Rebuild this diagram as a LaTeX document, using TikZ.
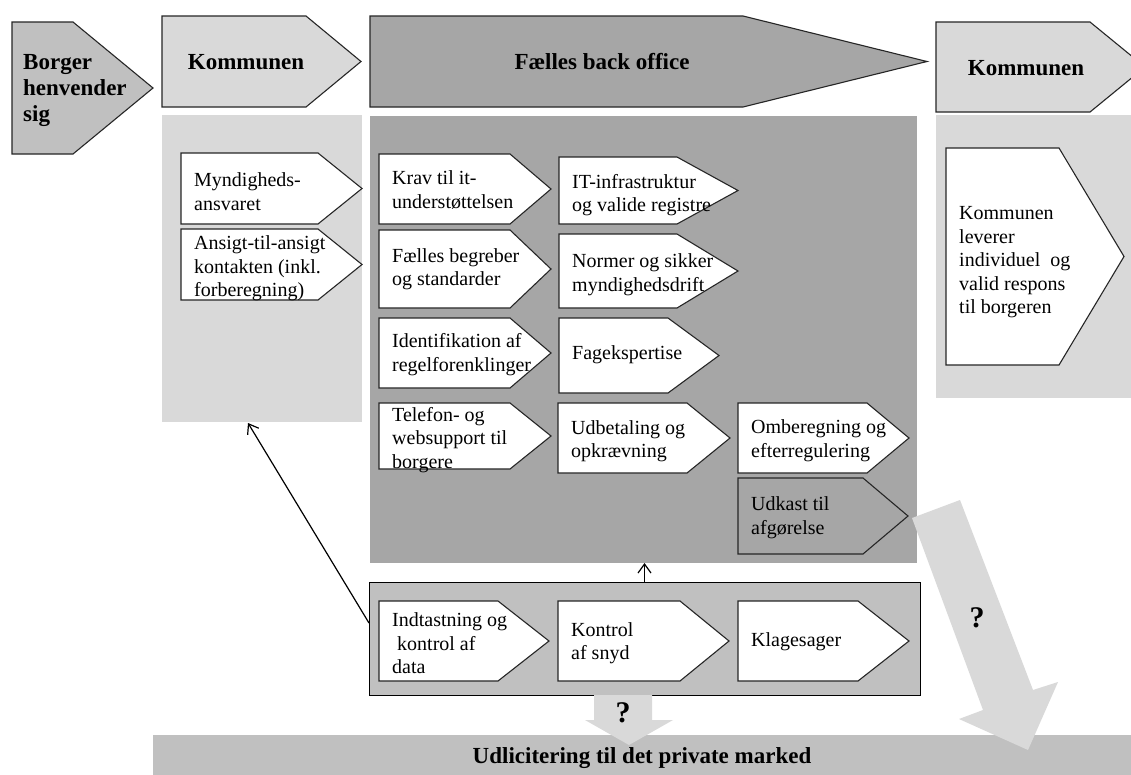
\documentclass[tikz,border=0pt]{standalone}
\usepackage{fontspec}
\setmainfont{Liberation Serif}
\usetikzlibrary{arrows.meta}
\definecolor{gA}{HTML}{D9D9D9}
\definecolor{gB}{HTML}{C0C0C0}
\definecolor{gC}{HTML}{A6A6A6}
\definecolor{edgecol}{HTML}{262626}
\tikzset{
 chev/.style={draw=edgecol, line width=1.1pt, line join=miter},
 txt/.style={font=\fontsize{20}{23.5}\selectfont, align=left, inner sep=0pt, anchor=west},
 headtxt/.style={font=\bfseries\fontsize{23}{26}\selectfont, align=left, inner sep=0pt},
 qtxt/.style={font=\bfseries\fontsize{30}{32}\selectfont, inner sep=0pt},
 panel/.style={inner sep=0pt, outer sep=0pt, anchor=north west, draw=none},
 conn/.style={line width=1.2pt, -{Straight Barb[length=9pt,width=13pt,line width=1.2pt]}},
 fatarrow/.style={fill=gA, draw=none},
}
\newcommand{\chevbox}[9]{%
  \draw[chev,#8] (#2,#3) -- (#4,#3) -- (#5,{(#3+#6)/2}) -- (#4,#6) -- (#2,#6) -- cycle;
  \node[txt] (#1) at ({#2+13},#7) {#9};
}
\begin{document}
\begin{tikzpicture}[x=1pt,y=-1pt]
\useasboundingbox (0,0) rectangle (1131,774);
\clip (0,0) rectangle (1131,774);
\fill[white] (0,0) rectangle (1131,774);

% header chevrons
\draw[chev, fill=gB] (12,22) -- (73,22) -- (153,88) -- (73,154) -- (12,154) -- cycle;
\node[headtxt, anchor=west] (borger) at (23,91) {Borger\\henvender\\sig};
\draw[chev, fill=gA] (162,16) -- (306,16) -- (361,61.5) -- (306,107) -- (162,107) -- cycle;
\node[headtxt] (komm1) at (246,62) {Kommunen};
\draw[chev, fill=gC] (370,16) -- (743,16) -- (927,61.5) -- (743,107) -- (370,107) -- cycle;
\node[headtxt] (faelles) at (602,62) {Fælles back office};
\draw[chev, fill=gA] (936,22) -- (1090,22) -- (1145,67) -- (1090,112) -- (936,112) -- cycle;
\node[headtxt] (komm2) at (1026,68) {Kommunen};

% panels
\node[panel, fill=gA, minimum width=200pt, minimum height=307pt] (lp) at (162,115) {};
\node[panel, fill=gC, minimum width=547pt, minimum height=447pt] (mp) at (370,116) {};
\node[panel, fill=gA, minimum width=200pt, minimum height=283pt] (rp) at (936,115) {};
\node[panel, fill=gB, draw=black, line width=1pt, minimum width=551pt, minimum height=113pt] (bp) at (369,582) {};

% left panel boxes
\chevbox{mynd}{181}{153}{318}{362}{224}{191.5}{fill=white}{Myndigheds-\\ansvaret}
\chevbox{ansigt}{181}{229}{318}{362}{300}{268.5}{fill=white}{Ansigt-til-ansigt\\kontakten (inkl.\\forberegning)}

% middle panel boxes
\chevbox{krav}{379}{154}{510}{551}{224}{190}{fill=white}{Krav til it-\\understøttelsen}
\chevbox{begreber}{379}{230}{510}{551}{308}{269}{fill=white}{Fælles begreber\\og standarder}
\chevbox{ident}{379}{318}{510}{551}{388}{354.5}{fill=white}{Identifikation af\\regelforenklinger}
\chevbox{telefon}{379}{403}{510}{551}{469}{440}{fill=white}{Telefon- og\\websupport til\\borgere}
\chevbox{infra}{559}{157}{677}{738}{224}{195}{fill=white}{IT-infrastruktur\\og valide registre}
\chevbox{normer}{559}{234}{677}{738}{308}{274.5}{fill=white}{Normer og sikker\\myndighedsdrift}
\chevbox{fag}{559}{318}{668}{719}{393}{355}{fill=white}{Fagekspertise}
\chevbox{udbet}{558}{403}{687}{730}{473}{441}{fill=white}{Udbetaling og\\opkrævning}
\chevbox{omber}{738}{403}{867}{909}{473}{440.5}{fill=white}{Omberegning og\\efterregulering}
\chevbox{udkast}{738}{478}{863}{908}{554}{517.5}{fill=gC}{Udkast til\\afgørelse}

% right panel box
\chevbox{levere}{946}{148}{1059}{1124}{365}{262.5}{fill=white}{Kommunen\\leverer\\individuel\ \ og\\valid respons\\til borgeren}

% bottom panel boxes
\chevbox{indtast}{379}{601}{498}{549}{681}{643.5}{fill=white}{Indtastning og\\\hspace*{5pt}kontrol af\\data}
\chevbox{snyd}{558}{601}{680}{729}{681}{643}{fill=white}{Kontrol\\af snyd}
\chevbox{klage}{738}{601}{858}{909}{681}{642}{fill=white}{Klagesager}

% bottom band
\node[panel, fill=gB, minimum width=990pt, minimum height=50pt] (band) at (153,735) {};
\node[headtxt] (udlic) at (642,758) {Udlicitering til det private marked};

% fat arrows
\fill[fatarrow] (594,695) -- (652,695) -- (652,720) -- (673,720) -- (629,745) -- (585,720) -- (594,720) -- cycle;
\node[qtxt] (q1) at (623,713) {?};
\fill[fatarrow] (912,518) -- (960,500) -- (1033,690) -- (1058,682) -- (1028,750) -- (959,719) -- (983,710) -- cycle;
\node[qtxt] (q2) at (977,618) {?};

% connectors
\coordinate (lt) at (369,623);
\coordinate (lh) at (248,423);
\draw[conn] (lt) -- (lh);
\draw[conn] (bp.north) -- (bp.north |- mp.south);
\end{tikzpicture}
\end{document}
